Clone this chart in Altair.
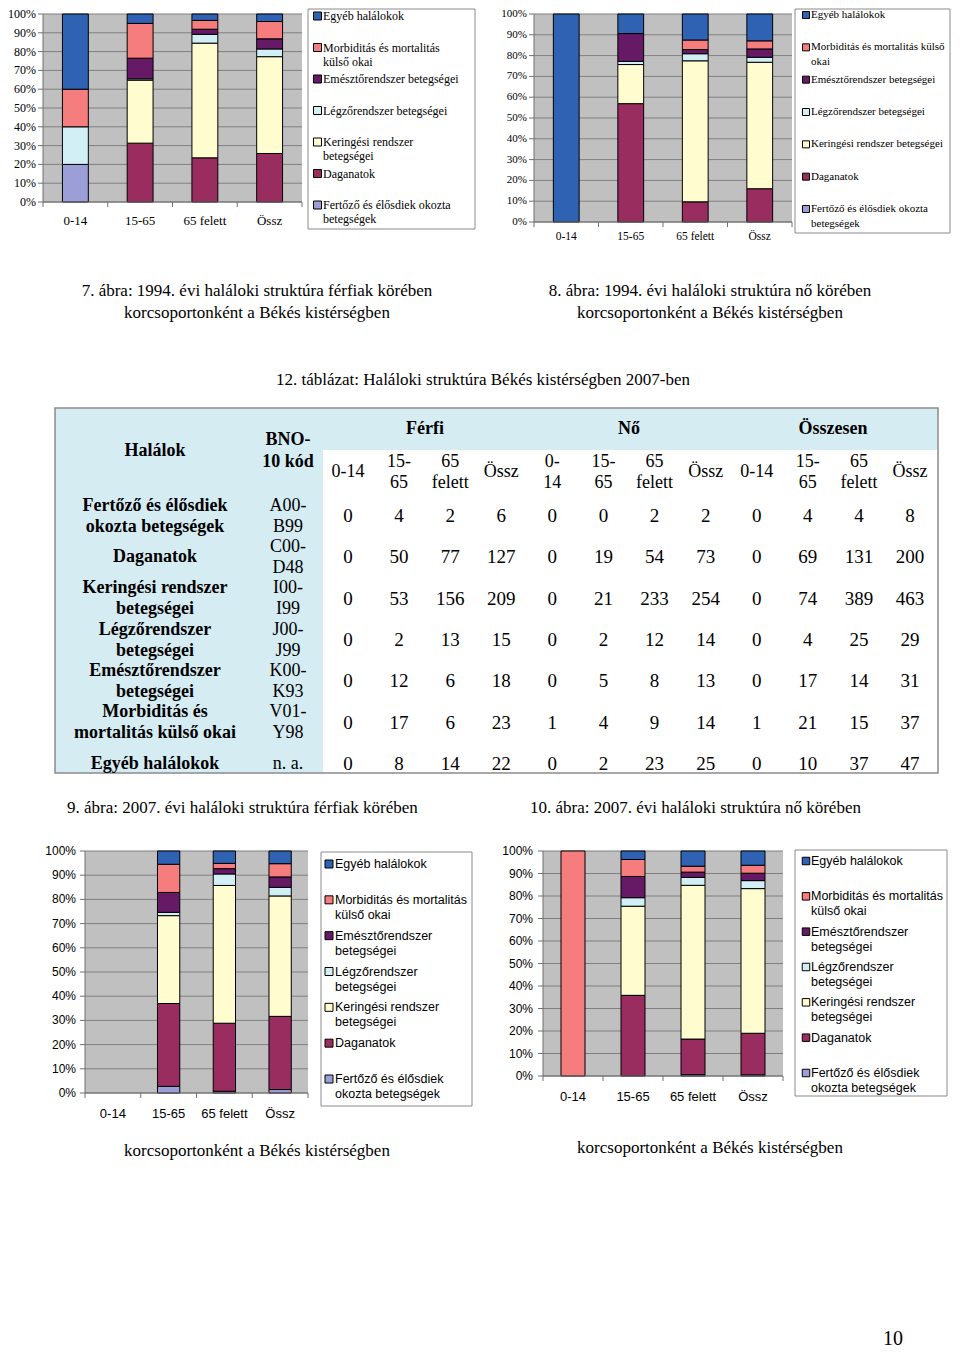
import altair as alt
import pandas as pd

MARGIN = 8


def px(v):
    """page pixel -> chart pixel"""
    return v - MARGIN


SERIF = "Liberation Serif"
SANS = "Liberation Sans"
PLOT_BG = "#C0C0C0"
GRID = "#808080"
AX = "#707070"
LEG_STROKE = "#8A8A8A"
TABLE_BLUE = "#D6ECF3"
TABLE_BORDER = "#8C8C8C"

# ---------------------------------------------------------------- data
ages = ["0-14", "15-65", "65 felett", "Össz"]
causes = [
    "Fertőző és élősdiek okozta betegségek",
    "Daganatok",
    "Keringési rendszer betegségei",
    "Légzőrendszer betegségei",
    "Emésztőrendszer betegségei",
    "Morbiditás és mortalitás külső okai",
    "Egyéb halálokok",
]
cause_colors = ["#9C9ED8", "#9A2D5F", "#FFFCD0", "#D2EFF6", "#661A66", "#F67D7D", "#2F62B3"]

ferfi_1994 = [
    [20, 0, 0, 0],
    [0, 31.3, 23.5, 25.8],
    [0, 33.5, 61.0, 51.5],
    [20, 0.7, 4.7, 4.1],
    [0, 11.0, 2.7, 5.4],
    [20, 18.5, 4.7, 9.2],
    [40, 5.0, 3.4, 4.0],
]
no_1994 = [
    [0, 0, 0, 0],
    [0, 56.9, 9.7, 16.0],
    [0, 18.8, 67.8, 60.8],
    [0, 1.5, 3.4, 2.4],
    [0, 13.4, 2.0, 4.0],
    [0, 0, 4.6, 3.9],
    [100, 9.4, 12.5, 12.9],
]

# 2007 deaths, table 12 (rows = causes, columns = ages)
ferfi_2007 = [
    [0, 4, 2, 6],
    [0, 50, 77, 127],
    [0, 53, 156, 209],
    [0, 2, 13, 15],
    [0, 12, 6, 18],
    [0, 17, 6, 23],
    [0, 8, 14, 22],
]
no_2007 = [
    [0, 0, 2, 2],
    [0, 19, 54, 73],
    [0, 21, 233, 254],
    [0, 2, 12, 14],
    [0, 5, 8, 13],
    [1, 4, 9, 14],
    [0, 2, 23, 25],
]
ossz_2007 = [
    [0, 4, 4, 8],
    [0, 69, 131, 200],
    [0, 74, 389, 463],
    [0, 4, 25, 29],
    [0, 17, 14, 31],
    [1, 21, 15, 37],
    [0, 10, 37, 47],
]

tick_values = [0.0, 0.1, 0.2, 0.3, 0.4, 0.5, 0.6, 0.7, 0.8, 0.9, 1.0]
tick_labels = ["0%", "10%", "20%", "30%", "40%", "50%", "60%", "70%", "80%", "90%", "100%"]

# legend texts (top -> bottom), "|" = line break
legend_7 = ["Egyéb halálokok", "Morbiditás és mortalitás|külső okai", "Emésztőrendszer betegségei",
            "Légzőrendszer betegségei", "Keringési rendszer|betegségei", "Daganatok",
            "Fertőző és élősdiek okozta|betegségek"]
legend_8 = ["Egyéb halálokok", "Morbiditás és mortalitás külső|okai", "Emésztőrendszer betegségei",
            "Légzőrendszer betegségei", "Keringési rendszer betegségei", "Daganatok",
            "Fertőző és élősdiek okozta|betegségek"]
legend_2007 = ["Egyéb halálokok", "Morbiditás és mortalitás|külső okai", "Emésztőrendszer|betegségei",
               "Légzőrendszer|betegségei", "Keringési rendszer|betegségei", "Daganatok",
               "Fertőző és élősdiek|okozta betegségek"]

# table texts
table_row_labels = ["Fertőző és élősdiek|okozta betegségek", "Daganatok", "Keringési rendszer|betegségei",
                    "Légzőrendszer|betegségei", "Emésztőrendszer|betegségei",
                    "Morbiditás és|mortalitás külső okai", "Egyéb halálokok"]
table_codes = ["A00-|B99", "C00-|D48", "I00-|I99", "J00-|J99", "K00-|K93", "V01-|Y98", "n. a."]
table_groups = ["Férfi", "Nő", "Összesen"]
table_cols = ["F0", "F1", "F2", "F3", "N0", "N1", "N2", "N3", "O0", "O1", "O2", "O3"]
table_sub = ["0-14", "15-|65", "65|felett", "Össz", "0-|14", "15-|65", "65|felett", "Össz",
             "0-14", "15-|65", "65|felett", "Össz"]

captions = {
    "c7a": "7. ábra: 1994. évi haláloki struktúra férfiak körében",
    "c7b": "korcsoportonként a Békés kistérségben",
    "c8a": "8. ábra: 1994. évi haláloki struktúra nő körében",
    "c8b": "korcsoportonként a Békés kistérségben",
    "t12": "12. táblázat: Haláloki struktúra Békés kistérségben 2007-ben",
    "c9a": "9. ábra: 2007. évi haláloki struktúra férfiak körében",
    "c10a": "10. ábra: 2007. évi haláloki struktúra nő körében",
    "c9b": "korcsoportonként a Békés kistérségben",
    "c10b": "korcsoportonként a Békés kistérségben",
    "page": "10",
}

color_scale = alt.Scale(domain=causes, range=cause_colors)


# ---------------------------------------------------------------- helpers
def text_at(t, x, y, size=17, align="center", weight="normal", font=SERIF, lh=21):
    return alt.Chart(pd.DataFrame({"t": [t]})).mark_text(
        align=align, baseline="middle", font=font, fontSize=size, fontWeight=weight,
        lineBreak="|", lineHeight=lh, color="black"
    ).encode(x=alt.value(px(x)), y=alt.value(px(y)), text="t:N")


def panel(values, plot, legend_labels, box, sym_x, lab_x, leg_y, font,
          ytick_size, ytick_gap, xlab_size, xlab_dy, leg_size, leg_lh, sym_size):
    x0, x1, yt, yb = plot
    xs = alt.Scale(type="band", domain=ages, range=[px(x0), px(x1)], paddingInner=0.6, paddingOuter=0.3)
    ys = alt.Scale(type="linear", domain=[0, 1], range=[px(yb), px(yt)], zero=False, nice=False)
    fx = alt.Scale(type="linear", domain=[0, 1], range=[px(x0), px(x1)], zero=False, nice=False)

    unit = pd.DataFrame({"lo": [0.0], "hi": [1.0]})
    ticks = pd.DataFrame({"v": tick_values, "lab": tick_labels})
    ticks["lo"] = 0.0
    ticks["hi"] = 1.0
    nb = len(ages)
    bnd = pd.DataFrame({"b": [i / nb for i in range(nb + 1)]})
    bnd["lo"] = 0.0
    cats = pd.DataFrame({"age": ages})
    cats["lo"] = 0.0

    rows = []
    for ci, (c, vals) in enumerate(zip(causes, values)):
        for a, v in zip(ages, vals):
            if v > 0:
                rows.append({"age": a, "cause": c, "idx": ci, "value": v})
    bars_df = pd.DataFrame(rows)

    leg_df = pd.DataFrame({"cause": causes[::-1], "label": legend_labels})
    ly = alt.Scale(type="point", domain=causes[::-1], range=[px(leg_y[0]), px(leg_y[1])], padding=0)
    bx0, by0, bx1, by1 = box

    L = []
    L.append(alt.Chart(unit).mark_rect(color=PLOT_BG).encode(
        x=alt.X("lo:Q", scale=fx, axis=None), x2="hi:Q",
        y=alt.Y("lo:Q", scale=ys, axis=None), y2="hi:Q"))
    L.append(alt.Chart(ticks).mark_rule(color=GRID, strokeWidth=1).encode(
        x=alt.X("lo:Q", scale=fx, axis=None), x2="hi:Q",
        y=alt.Y("v:Q", scale=ys, axis=None)))
    L.append(alt.Chart(bars_df).mark_bar(stroke="black", strokeWidth=1).encode(
        x=alt.X("age:N", scale=xs, axis=None),
        y=alt.Y("value:Q", stack="normalize", scale=ys, axis=None),
        color=alt.Color("cause:N", scale=color_scale, legend=None),
        order=alt.Order("idx:Q", sort="ascending")))
    # axis lines
    L.append(alt.Chart(unit).mark_rule(color=AX, strokeWidth=1).encode(
        x=alt.X("lo:Q", scale=fx, axis=None),
        y=alt.Y("lo:Q", scale=ys, axis=None), y2="hi:Q"))
    L.append(alt.Chart(unit).mark_rule(color=AX, strokeWidth=1).encode(
        x=alt.X("lo:Q", scale=fx, axis=None), x2="hi:Q",
        y=alt.Y("lo:Q", scale=ys, axis=None)))
    # y ticks + labels
    L.append(alt.Chart(ticks).mark_rule(color=AX, strokeWidth=1, x2Offset=-5).encode(
        x=alt.X("lo:Q", scale=fx, axis=None), x2="lo:Q",
        y=alt.Y("v:Q", scale=ys, axis=None)))
    L.append(alt.Chart(ticks).mark_text(align="right", baseline="middle", dx=-ytick_gap,
                                        font=font, fontSize=ytick_size, color="black").encode(
        x=alt.X("lo:Q", scale=fx, axis=None),
        y=alt.Y("v:Q", scale=ys, axis=None), text="lab:N"))
    # x ticks + labels
    L.append(alt.Chart(bnd).mark_rule(color=AX, strokeWidth=1, y2Offset=5).encode(
        x=alt.X("b:Q", scale=fx, axis=None),
        y=alt.Y("lo:Q", scale=ys, axis=None), y2="lo:Q"))
    L.append(alt.Chart(cats).mark_text(baseline="middle", dy=xlab_dy, font=font,
                                       fontSize=xlab_size, color="black").encode(
        x=alt.X("age:N", scale=xs, axis=None),
        y=alt.Y("lo:Q", scale=ys, axis=None), text="age:N"))
    # legend
    L.append(alt.Chart(unit).mark_rect(fill="white", stroke=LEG_STROKE, strokeWidth=1).encode(
        x=alt.value(px(bx0)), x2=alt.value(px(bx1)),
        y=alt.value(px(by0)), y2=alt.value(px(by1))))
    L.append(alt.Chart(leg_df).mark_square(size=sym_size, stroke="black", strokeWidth=1, opacity=1).encode(
        x=alt.value(px(sym_x)),
        y=alt.Y("cause:N", scale=ly, axis=None),
        color=alt.Color("cause:N", scale=color_scale, legend=None)))
    L.append(alt.Chart(leg_df).mark_text(align="left", baseline="middle", lineBreak="|",
                                         lineHeight=leg_lh, font=font, fontSize=leg_size,
                                         color="black").encode(
        x=alt.value(px(lab_x)),
        y=alt.Y("cause:N", scale=ly, axis=None), text="label:N"))
    return L


def table_layers():
    L = []
    one = pd.DataFrame({"a": [0]})
    # backgrounds
    L.append(alt.Chart(one).mark_rect(color=TABLE_BLUE).encode(
        x=alt.value(px(55)), x2=alt.value(px(938)), y=alt.value(px(408)), y2=alt.value(px(450))))
    L.append(alt.Chart(one).mark_rect(color=TABLE_BLUE).encode(
        x=alt.value(px(55)), x2=alt.value(px(323)), y=alt.value(px(408)), y2=alt.value(px(773))))
    L.append(alt.Chart(one).mark_rect(fillOpacity=0, stroke=TABLE_BORDER, strokeWidth=1.5).encode(
        x=alt.value(px(55)), x2=alt.value(px(938)), y=alt.value(px(408)), y2=alt.value(px(773))))

    cs = alt.Scale(type="point", domain=table_cols, range=[px(348), px(910)], padding=0)
    gs = alt.Scale(type="point", domain=table_groups, range=[px(425), px(833)], padding=0)
    rs = alt.Scale(type="point", domain=causes, range=[px(516), px(764)], padding=0)

    # group headers
    L.append(alt.Chart(pd.DataFrame({"g": table_groups})).mark_text(
        baseline="middle", font=SERIF, fontSize=18, fontWeight="bold", color="black").encode(
        x=alt.X("g:N", scale=gs, axis=None), y=alt.value(px(429)), text="g:N"))
    # sub headers
    sub = pd.DataFrame({"col": table_cols, "lab": table_sub})
    L.append(alt.Chart(sub).transform_filter("indexof(datum.lab, '|') < 0").mark_text(
        baseline="middle", font=SERIF, fontSize=18, color="black").encode(
        x=alt.X("col:N", scale=cs, axis=None), y=alt.value(px(472)), text="lab:N"))
    L.append(alt.Chart(sub).transform_filter("indexof(datum.lab, '|') >= 0").mark_text(
        baseline="middle", font=SERIF, fontSize=18, lineBreak="|", lineHeight=21, color="black").encode(
        x=alt.X("col:N", scale=cs, axis=None), y=alt.value(px(461.5)), text="lab:N"))
    # left headers
    L.append(text_at("Halálok", 155, 451, size=18, weight="bold"))
    L.append(text_at("BNO-|10 kód", 288, 440, size=18, weight="bold", lh=22))

    # numbers
    recs = []
    groups = [ferfi_2007, no_2007, ossz_2007]
    for gi, g in enumerate(groups):
        for ri, c in enumerate(causes):
            for ai in range(4):
                recs.append({"row": c, "col": table_cols[gi * 4 + ai], "val": str(g[ri][ai])})
    L.append(alt.Chart(pd.DataFrame(recs)).mark_text(
        baseline="middle", font=SERIF, fontSize=19, color="black").encode(
        x=alt.X("col:N", scale=cs, axis=None),
        y=alt.Y("row:N", scale=rs, axis=None), text="val:N"))

    lab = pd.DataFrame({"row": causes, "lab": table_row_labels, "code": table_codes})
    for field, xpos, weight in [("lab", 155, "bold"), ("code", 288, "normal")]:
        L.append(alt.Chart(lab).transform_filter(f"indexof(datum.{field}, '|') < 0").mark_text(
            baseline="middle", font=SERIF, fontSize=18, fontWeight=weight, color="black").encode(
            x=alt.value(px(xpos)), y=alt.Y("row:N", scale=rs, axis=None), text=f"{field}:N"))
        L.append(alt.Chart(lab).transform_filter(f"indexof(datum.{field}, '|') >= 0").mark_text(
            baseline="middle", font=SERIF, fontSize=18, fontWeight=weight, lineBreak="|",
            lineHeight=21, dy=-10.5, color="black").encode(
            x=alt.value(px(xpos)), y=alt.Y("row:N", scale=rs, axis=None), text=f"{field}:N"))
    return L


layers = []
layers += panel(ferfi_1994, (43, 302, 14, 202), legend_7, (308, 9, 475, 229), 317.5, 323, (16, 205),
                SERIF, 12, 7, 13, 19, 12, 14, 64)
layers += panel(no_1994, (534, 792, 14, 222), legend_8, (795, 9, 950, 233), 806, 811, (15, 209),
                SERIF, 11, 7, 11.5, 15, 11, 15, 49)
layers += panel(ferfi_2007, (85, 308, 851, 1093), legend_2007, (321, 852, 472, 1106), 329, 335, (864, 1079),
                SANS, 12, 9, 13, 21, 12.5, 15, 64)
layers += panel(no_2007, (543, 783, 851, 1076), legend_2007, (795, 850, 947, 1096), 806, 811, (861, 1073),
                SANS, 12, 10, 13, 21, 12.5, 15, 56)
layers += table_layers()

layers.append(text_at(captions["c7a"], 257, 291))
layers.append(text_at(captions["c7b"], 257, 313))
layers.append(text_at(captions["c8a"], 710, 291))
layers.append(text_at(captions["c8b"], 710, 313))
layers.append(text_at(captions["t12"], 483, 380))
layers.append(text_at(captions["c9a"], 67, 808, align="left"))
layers.append(text_at(captions["c10a"], 530, 808, align="left"))
layers.append(text_at(captions["c9b"], 257, 1151))
layers.append(text_at(captions["c10b"], 710, 1148))
layers.append(text_at(captions["page"], 893, 1339, size=20))

chart = alt.layer(*layers).resolve_scale(
    x="independent", y="independent"
).properties(
    width=944, height=1342,
    autosize=alt.AutoSizeParams(type="none"),
    padding=0,
).configure_view(stroke=None)

chart.save("out.html", embed_options={"renderer": "svg", "actions": False})
